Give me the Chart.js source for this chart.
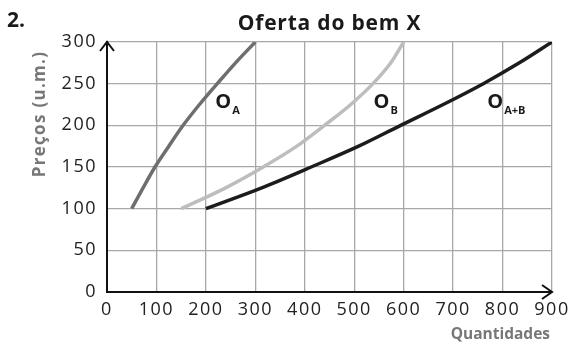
<!DOCTYPE html>
<html>
<head>
<meta charset="utf-8">
<script src="https://cdn.jsdelivr.net/npm/chart.js@4.4.1/dist/chart.umd.min.js"></script>
<style>
  body { margin: 0; background: #fff; }
  #wrap { width: 570px; height: 343px; }
</style>
</head>
<body>
<div id="wrap"><canvas id="grafico" width="570" height="343"></canvas></div>
<script>
// preços (u.m.)
const precos = [100, 125, 150, 175, 200, 225, 250, 275, 300];
// quantidades oferecidas a cada preço
const qtdA = [50, 73, 97, 125, 154, 187, 223, 260, 300];
const qtdB = [150, 240, 316, 384, 440, 493, 538, 574, 600];
const qtdAB = [200, 313, 413, 509, 594, 680, 761, 834, 900];

const ticksQtd = [0, 100, 200, 300, 400, 500, 600, 700, 800, 900];
const ticksPreco = [0, 50, 100, 150, 200, 250, 300];

const FONTE = '"Open Sans", sans-serif';

function pontos(qtd) {
  return qtd.map((q, i) => ({ x: q, y: precos[i] }));
}

function curva(rotulo, qtd, cor) {
  return {
    label: rotulo,
    data: pontos(qtd),
    showLine: true,
    borderColor: cor,
    borderWidth: 3.5,
    pointRadius: 0,
    cubicInterpolationMode: 'monotone',
    borderCapStyle: 'butt',
  };
}

// rótulos O_A, O_B, O_A+B (posição em coordenadas dos eixos)
const rotulosCurvas = [
  { sub: 'A', q: 219, p: 221 },
  { sub: 'B', q: 539, p: 221 },
  { sub: 'A+B', q: 769, p: 221 },
];

const textos = {
  id: 'textos',
  beforeDraw(chart) {
    chart.ctx.letterSpacing = '1.5px';
  },
  afterDraw(chart) {
    const { ctx, chartArea, scales } = chart;
    ctx.save();
    ctx.fillStyle = '#1a1a1a';
    ctx.letterSpacing = '0px';
    ctx.textBaseline = 'alphabetic';

    ctx.font = 'bold 21px ' + FONTE;
    ctx.textAlign = 'left';
    ctx.fillText('2.', 7, 27);

    ctx.letterSpacing = '0.8px';
    ctx.textAlign = 'center';
    ctx.fillText('Oferta do bem X', (chartArea.left + chartArea.right) / 2, 30);

    // títulos dos eixos
    ctx.fillStyle = '#777777';
    ctx.font = 'bold 15.5px ' + FONTE;
    ctx.letterSpacing = '0px';
    ctx.textAlign = 'right';
    ctx.fillText('Quantidades', 550, 339);

    ctx.save();
    ctx.translate(45, 114);
    ctx.rotate(-Math.PI / 2);
    ctx.font = 'bold 17px ' + FONTE;
    ctx.letterSpacing = '1.3px';
    ctx.textAlign = 'center';
    ctx.fillText('Preços (u.m.)', 0, 0);
    ctx.restore();

    // nomes das curvas
    ctx.fillStyle = '#1a1a1a';
    ctx.textAlign = 'left';
    ctx.letterSpacing = '0px';
    rotulosCurvas.forEach(r => {
      const x = scales.x.getPixelForValue(r.q);
      const y = scales.y.getPixelForValue(r.p);
      ctx.font = 'bold 20px ' + FONTE;
      ctx.fillText('O', x, y);
      ctx.font = 'bold 11px ' + FONTE;
      ctx.fillText(r.sub, x + 17, y + 6);
    });

    // setas dos eixos
    ctx.strokeStyle = '#111';
    ctx.lineWidth = 2;
    const xl = chartArea.left, yb = chartArea.bottom;
    ctx.beginPath();
    ctx.moveTo(xl - 7, chartArea.top + 9);
    ctx.lineTo(xl, chartArea.top);
    ctx.lineTo(xl + 7, chartArea.top + 9);
    ctx.moveTo(chartArea.right - 10, yb - 7);
    ctx.lineTo(chartArea.right, yb);
    ctx.lineTo(chartArea.right - 10, yb + 7);
    ctx.stroke();
    ctx.restore();
  }
};

new Chart(document.getElementById('grafico'), {
  type: 'scatter',
  data: {
    datasets: [
      curva('O_A', qtdA, '#6e6e6e'),
      curva('O_B', qtdB, '#bdbdbd'),
      curva('O_A+B', qtdAB, '#1c1c1c'),
    ],
  },
  options: {
    responsive: false,
    animation: false,
    layout: { padding: { top: 42, right: 18, left: 0, bottom: 0 } },
    plugins: {
      legend: { display: false },
      tooltip: { enabled: false },
    },
    scales: {
      x: {
        type: 'linear',
        min: 0,
        max: 900,
        afterBuildTicks: s => { s.ticks = ticksQtd.map(v => ({ value: v })); },
        afterFit: s => { s.height = 51; s.paddingLeft = 0; s.paddingRight = 0; },
        grid: { color: '#a8a8a8', lineWidth: 1.3, drawTicks: false },
        border: { color: '#111', width: 2 },
        ticks: { color: '#222', padding: 7, font: { family: FONTE, size: 18 } },
      },
      y: {
        type: 'linear',
        min: 0,
        max: 300,
        afterBuildTicks: s => { s.ticks = ticksPreco.map(v => ({ value: v })); },
        afterFit: s => { s.width = 107; s.paddingTop = 0; s.paddingBottom = 0; },
        grid: { color: '#a8a8a8', lineWidth: 1.3, drawTicks: false },
        border: { color: '#111', width: 2 },
        ticks: { color: '#222', padding: 10, font: { family: FONTE, size: 18 } },
      },
    },
  },
  plugins: [textos],
});
</script>
</body>
</html>
